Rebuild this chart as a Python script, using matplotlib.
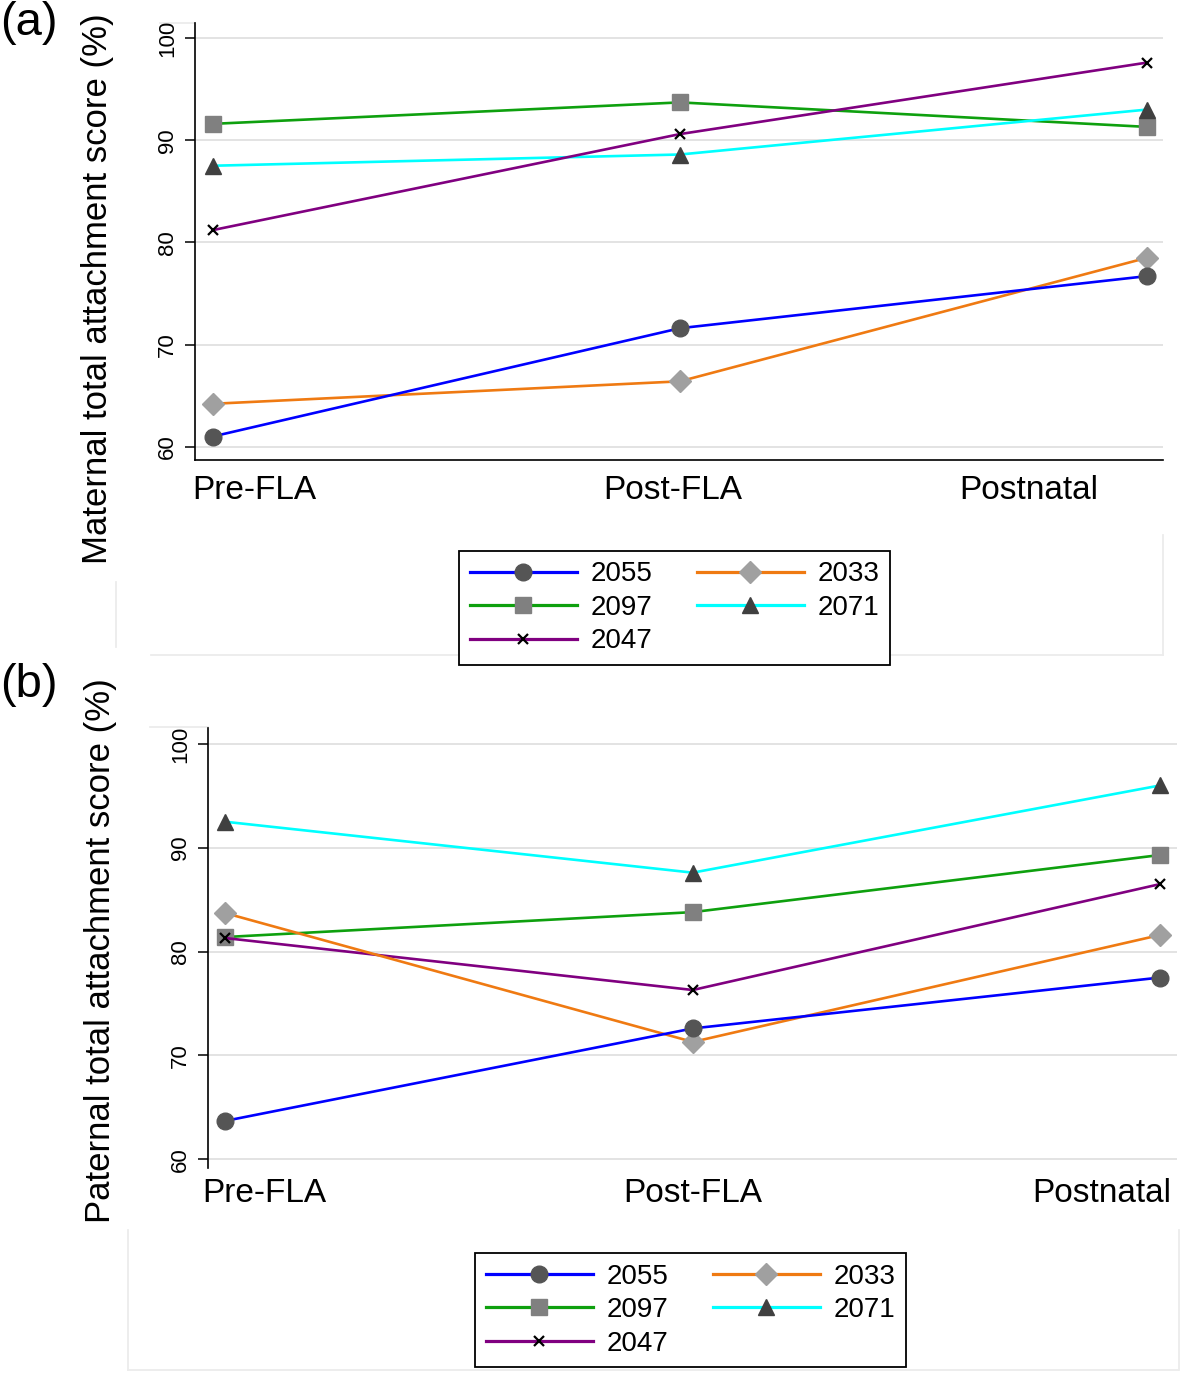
import matplotlib
matplotlib.use('Agg')
import matplotlib.pyplot as plt
from matplotlib.lines import Line2D

plt.rcParams['font.family'] = ['Liberation Sans', 'DejaVu Sans']

# ---------------- data ----------------
stages = ['Pre-FLA', 'Post-FLA', 'Postnatal']
series_ids = ['2055', '2097', '2047', '2033', '2071']

maternal_2055 = [61.0, 71.6, 76.7]
maternal_2097 = [91.6, 93.7, 91.3]
maternal_2047 = [81.2, 90.6, 97.6]
maternal_2033 = [64.2, 66.4, 78.5]
maternal_2071 = [87.5, 88.6, 93.0]

paternal_2055 = [63.7, 72.6, 77.5]
paternal_2097 = [81.4, 83.8, 89.3]
paternal_2047 = [81.3, 76.3, 86.5]
paternal_2033 = [83.7, 71.3, 81.6]
paternal_2071 = [92.5, 87.6, 96.0]

y_ticks = [60, 70, 80, 90, 100]

maternal = {'2055': maternal_2055, '2097': maternal_2097, '2047': maternal_2047,
            '2033': maternal_2033, '2071': maternal_2071}
paternal = {'2055': paternal_2055, '2097': paternal_2097, '2047': paternal_2047,
            '2033': paternal_2033, '2071': paternal_2071}

# ---------------- styles ----------------
styles = {
    '2055': dict(color='#0000ff', marker='o', mfc='#555555', mec='#555555', ms=12),
    '2097': dict(color='#0ea00e', marker='s', mfc='#808080', mec='#808080', ms=12),
    '2047': dict(color='#800080', marker='x', mfc='black', mec='black', ms=7, mew=1.6),
    '2033': dict(color='#ef7a12', marker='D', mfc='#a0a0a0', mec='#a0a0a0', ms=11),
    '2071': dict(color='#00ffff', marker='^', mfc='#404040', mec='#404040', ms=12),
}
draw_order = ['2097', '2071', '2047', '2033', '2055']

W, H = 1181, 1375
fig = plt.figure(figsize=(W / 100, H / 100), dpi=100)
fig.patch.set_facecolor('white')


def fx(px):
    return px / W


def fy(py):
    return 1 - py / H


def faint(x0, y0, x1, y1):
    fig.add_artist(Line2D([fx(x0), fx(x1)], [fy(y0), fy(y1)], transform=fig.transFigure,
                          color='#ececec', lw=1.3, zorder=0))


def panel(rect, xlim, ylim, data, label_pos, show_bottom, xpad):
    ax = fig.add_axes(rect)
    xs = list(range(len(stages)))
    handles = {}
    for sid in draw_order:
        st = styles[sid]
        kw = dict(st)
        color = kw.pop('color')
        ln, = ax.plot(xs, data[sid], color=color, lw=1.9, label=sid, **kw)
        handles[sid] = ln
    ax.set_xlim(*xlim)
    ax.set_ylim(*ylim)
    ax.set_yticks(y_ticks)
    ax.grid(axis='y', color='#e3e3e3', lw=1.4)
    ax.set_axisbelow(True)
    for s in ['top', 'right']:
        ax.spines[s].set_visible(False)
    ax.spines['bottom'].set_visible(show_bottom)
    ax.spines['left'].set_linewidth(1.2)
    ax.spines['bottom'].set_linewidth(1.2)
    ax.tick_params(axis='y', length=7, width=1.1, labelsize=16, pad=5, labelrotation=90)
    for t in ax.get_yticklabels():
        t.set_va('center')
    ax.set_xticks(label_pos)
    ax.set_xticklabels(stages, fontsize=24)
    ax.tick_params(axis='x', length=0, pad=xpad)
    return ax, handles


# ---------------- panel (a) ----------------
ax_a, h_a = panel([fx(195), fy(460), (1162.7 - 195) / W, (460 - 22.7) / H],
                  (-0.038, 2.033), (58.7, 101.5), maternal,
                  [0.089, 0.984, 1.746], True, 10.5)
# ---------------- panel (b) ----------------
ax_b, h_b = panel([fx(207.7), fy(1168), (1177 - 207.7) / W, (1168 - 728.3) / H],
                  (-0.038, 2.036), (59.16, 101.5), paternal,
                  [0.083, 1.0, 1.876], False, 7.5)

fig.text(fx(106.7), fy(289), 'Maternal total attachment score (%)', rotation=90,
         rotation_mode='anchor', ha='center', va='baseline', fontsize=25)
fig.text(fx(110), fy(951), 'Paternal total attachment score (%)', rotation=90,
         rotation_mode='anchor', ha='center', va='baseline', fontsize=25)

fig.text(fx(0), fy(35), '(a)', fontsize=34, ha='left', va='baseline')
fig.text(fx(0), fy(697), '(b)', fontsize=34, ha='left', va='baseline')

# ---------------- legends ----------------
legend_order = ['2055', '2097', '2047', '2033', '2071']
for handles, (lx, ly) in [(h_a, (459, 550.7)), (h_b, (475, 1253))]:
    leg = fig.legend([handles[s] for s in legend_order], legend_order, ncol=2,
                     loc='upper left', bbox_to_anchor=(fx(lx), fy(ly)),
                     bbox_transform=fig.transFigure, borderaxespad=0,
                     frameon=True, fancybox=False, edgecolor='black', framealpha=1,
                     fontsize=20, handlelength=3.85, handletextpad=0.5,
                     columnspacing=1.6, labelspacing=0.27, borderpad=0.38,
                     numpoints=1)
    leg.get_frame().set_linewidth(1.3)
    for ln in leg.get_lines():
        ln.set_linewidth(2.3)

# ---------------- faint frame remnants ----------------
faint(115.7, 582, 115.7, 647)
faint(150.7, 655, 1163, 655)
faint(1163, 535, 1163, 655)
faint(160, 22.7, 195, 22.7)
faint(128, 1230, 128, 1370)
faint(128, 1370, 1178, 1370)
faint(1179, 1230, 1179, 1370)
faint(150, 726.7, 207.7, 726.7)

fig.savefig('out.png', dpi=100, facecolor='white')
